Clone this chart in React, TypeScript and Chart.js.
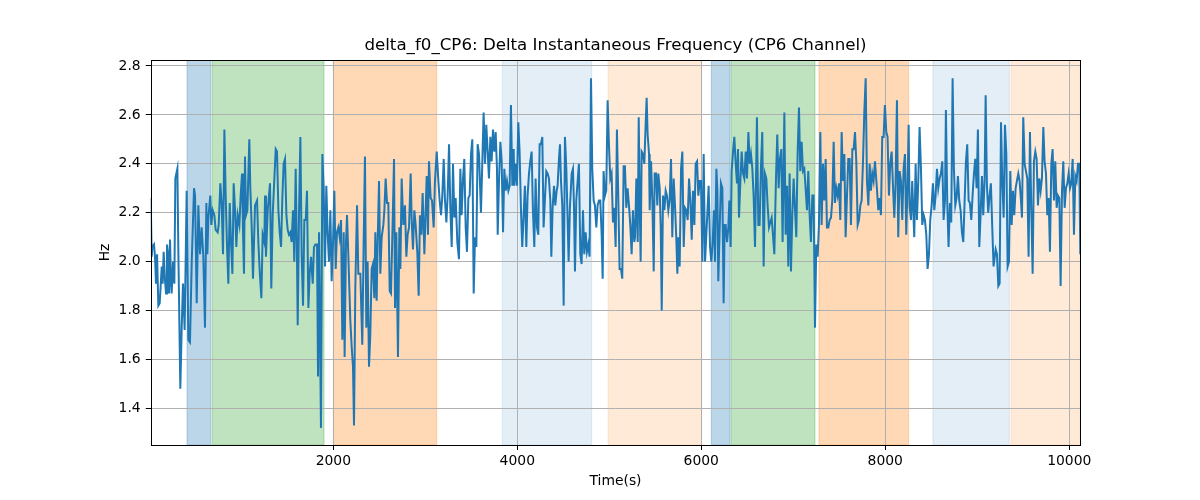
import React, { useEffect, useRef } from "react"
import { Chart, ChartConfiguration, Plugin, registerables } from "chart.js"

Chart.register(...registerables)

// sample times (s) and delta frequency values (Hz)
const timeS = [
	15, 26, 33, 51, 62, 73, 84, 98, 113, 135,
	145, 156, 171, 182, 192, 207, 214, 225, 236, 243,
	258, 272, 283, 305, 316, 337, 352, 366, 384, 406,
	424, 442, 461, 486, 497, 515, 533, 551, 569, 587,
	605, 620, 631, 642, 663, 674, 689, 707, 721, 743,
	754, 772, 787, 801, 816, 830, 845, 859, 874, 888,
	903, 917, 932, 946, 961, 979, 993, 1008, 1018, 1029,
	1040, 1051, 1066, 1087, 1098, 1113, 1127, 1149, 1171, 1185,
	1200, 1218, 1232, 1250, 1258, 1268, 1287, 1312, 1326, 1341,
	1374, 1388, 1403, 1417, 1432, 1446, 1460, 1475, 1490, 1504,
	1518, 1533, 1547, 1562, 1576, 1591, 1605, 1613, 1627, 1642,
	1656, 1671, 1685, 1700, 1714, 1729, 1743, 1758, 1776, 1790,
	1805, 1823, 1834, 1845, 1866, 1881, 1895, 1910, 1924, 1939,
	1953, 1968, 1982, 1997, 2011, 2026, 2040, 2055, 2069, 2084,
	2098, 2113, 2123, 2138, 2149, 2163, 2185, 2200, 2214, 2225,
	2239, 2258, 2272, 2294, 2315, 2330, 2344, 2359, 2373, 2388,
	2402, 2417, 2431, 2446, 2457, 2471, 2482, 2497, 2511, 2526,
	2544, 2555, 2569, 2584, 2598, 2613, 2627, 2642, 2660,
	2671, 2685, 2703, 2718, 2729, 2743, 2761, 2779, 2794, 2808,
	2823, 2841, 2852, 2866, 2881, 2895, 2913, 2928, 2942, 2957,
	2971, 2990, 3004, 3015, 3029, 3040, 3058, 3073, 3091, 3105,
	3124, 3142, 3156, 3171, 3185, 3200, 3214, 3229, 3243, 3258,
	3272, 3287, 3301, 3316, 3330, 3348, 3366, 3381, 3395, 3410,
	3424, 3439, 3453, 3468, 3482, 3497, 3511, 3526, 3540, 3555,
	3569, 3584, 3605, 3620, 3634, 3649, 3663, 3678, 3692, 3707,
	3721, 3736, 3750, 3765, 3779, 3787, 3801, 3816, 3830, 3845,
	3859, 3874, 3888, 3903, 3917, 3931, 3946, 3961,
	3967, 3982, 3996, 4011, 4025, 4040, 4054, 4069, 4083, 4098,
	4112, 4127, 4141, 4156, 4170, 4185, 4199, 4214, 4228, 4243,
	4257, 4272, 4286, 4301, 4315, 4330, 4344, 4359, 4370, 4384,
	4399, 4413, 4428, 4438, 4453, 4464, 4475, 4489, 4504, 4518,
	4533, 4547, 4558, 4572, 4591, 4605, 4616, 4627, 4641, 4656,
	4670, 4685, 4699, 4714, 4728, 4743, 4757, 4772, 4786, 4801,
	4815, 4830, 4844, 4859, 4873, 4888, 4902, 4917, 4928, 4938,
	4953, 4967, 4982, 4996, 5011, 5025, 5040, 5054, 5069, 5083,
	5098, 5112, 5127, 5141, 5156, 5170, 5185, 5199, 5214, 5228,
	5243, 5257, 5272,
	5280, 5294, 5309, 5320, 5330, 5341, 5352, 5367, 5381, 5396,
	5406, 5417, 5432, 5439, 5454, 5468, 5483, 5493, 5508, 5522,
	5533, 5548, 5559, 5570, 5584, 5599, 5613, 5627, 5642, 5656,
	5671, 5685, 5700, 5714, 5729, 5740, 5751, 5765, 5780, 5794,
	5809, 5823, 5838, 5852, 5867, 5881, 5896, 5910, 5925, 5939,
	5954, 5968, 5983, 5997, 6012, 6026, 6041, 6055, 6070, 6080,
	6095, 6109, 6124, 6138, 6149, 6164, 6175, 6185, 6200, 6214,
	6229, 6243, 6254, 6265, 6280, 6294, 6305, 6319, 6330, 6345,
	6359, 6374, 6388, 6399, 6410, 6425, 6439, 6454, 6468, 6483,
	6497, 6512, 6526, 6540, 6555, 6569, 6584,
	6605, 6620, 6634, 6649, 6663, 6678, 6692, 6707, 6721, 6736,
	6750, 6765, 6779, 6794, 6812, 6826, 6841, 6855, 6870, 6884,
	6903, 6917, 6932, 6946, 6960, 6975, 6989, 7004, 7018, 7033,
	7047, 7062, 7076, 7091, 7105, 7120, 7134, 7149, 7163, 7178,
	7192, 7207, 7221, 7236, 7250, 7265, 7279, 7294, 7308, 7323,
	7337, 7352, 7366, 7381, 7395, 7410, 7424, 7439, 7453, 7468,
	7482, 7497, 7511, 7526, 7540, 7555, 7569, 7584, 7598, 7613,
	7627, 7642, 7656, 7671, 7685, 7700, 7714, 7729, 7743, 7758,
	7772, 7787, 7801, 7816, 7830, 7844, 7859, 7873, 7888,
	7909, 7924, 7938, 7953, 7967, 7982, 7996, 8011, 8025, 8040,
	8054, 8069, 8083, 8098, 8112, 8127, 8141, 8156, 8170, 8185,
	8199, 8214, 8228, 8243, 8254, 8264, 8279, 8293, 8308, 8315,
	8330, 8344, 8359, 8373, 8388, 8402, 8417, 8431, 8446, 8460,
	8475, 8489, 8504, 8518, 8533, 8547, 8562, 8576, 8591, 8605,
	8620, 8634, 8649, 8659, 8674, 8688, 8703, 8717, 8732, 8746,
	8761, 8775, 8790, 8804, 8819, 8833, 8848, 8862, 8877, 8891,
	8906, 8920, 8935, 8949, 8964, 8978, 8993, 9007, 9022, 9036,
	9051, 9065, 9080, 9091, 9105, 9119, 9134, 9148, 9163, 9177,
	9200, 9214, 9229, 9243, 9258, 9272, 9287, 9301, 9316, 9330,
	9345, 9359, 9374, 9388, 9402, 9417, 9431, 9446, 9460, 9475,
	9486, 9500, 9515, 9529, 9544, 9558, 9573, 9587, 9602, 9616,
	9631, 9645, 9660, 9674, 9689, 9703, 9718, 9732, 9747, 9761,
	9776, 9790, 9805, 9819, 9834, 9848, 9863, 9877, 9892, 9906,
	9921, 9935, 9950, 9964, 9979, 9993, 10008, 10022, 10037, 10051,
	10066, 10080, 10095, 10109, 10120,
]

const deltaHz = [
	2.26, 2.02, 2.06, 2.07, 2.02, 1.91, 2.03, 1.82, 1.83, 1.98,
	1.91, 2.04, 1.92, 1.87, 2.07, 2.02, 1.87, 2.09, 1.91, 1.87,
	2.0, 1.91, 2.34, 2.38, 2.03, 1.48, 1.73, 1.91, 1.72, 2.29,
	1.68, 1.67, 2.0, 2.3, 2.27, 1.83, 2.23, 2.03, 2.14, 2.02,
	1.73, 2.24, 2.03, 2.18, 2.27, 2.15, 2.21, 2.19, 2.13, 2.12,
	2.15, 2.32, 2.23, 2.03, 2.54, 2.27, 2.06, 1.91, 2.24, 2.08,
	1.95, 2.32, 2.21, 2.06, 2.19, 2.15, 2.27, 2.36, 2.13, 1.95,
	2.43, 2.19, 2.21, 2.5, 2.3, 2.14, 1.93, 2.23, 2.25, 2.08,
	1.96, 1.85, 2.11, 2.08, 2.27, 2.02, 2.21, 2.32, 1.89, 2.19,
	2.46, 2.45, 2.21, 2.12, 2.06, 2.26, 2.4, 2.42, 2.19, 2.13,
	2.11, 2.12, 2.08, 2.21, 2.0, 2.38, 2.02, 1.74, 2.19, 2.51,
	2.03, 1.82, 2.17, 2.17, 2.29, 1.81, 1.95, 2.02, 1.91, 2.06,
	2.07, 2.07, 1.53, 2.12, 1.32, 2.44, 2.3, 1.98, 2.31, 2.11,
	2.0, 2.21, 1.92, 2.08, 2.29, 1.97, 2.12, 2.14, 2.1, 2.17,
	1.68, 2.12, 1.61, 2.08, 2.19, 2.03, 1.76, 1.65, 1.57, 1.33,
	1.89, 2.23, 1.95, 1.95, 1.66, 2.08, 2.43, 1.73, 2.0, 1.57,
	1.7, 1.97, 1.99, 1.85, 2.12, 1.84, 2.08, 2.33, 1.95, 2.1,
	2.15, 2.21, 2.34, 2.24, 2.24, 1.88, 1.87, 2.11, 2.42,
	1.81, 2.12, 1.61, 2.14, 1.97, 2.34, 2.15, 2.23, 2.02, 2.11,
	2.14, 2.36, 2.17, 2.05, 2.21, 2.15, 2.04, 1.86, 2.19, 2.11,
	2.28, 2.03, 2.21, 2.35, 2.11, 2.41, 2.26, 2.25, 2.14, 2.33,
	2.45, 2.33, 2.25, 2.19, 2.27, 2.42, 2.25, 2.16, 2.27, 2.48,
	2.22, 2.06, 2.4, 2.18, 2.26, 2.08, 2.01, 2.38, 2.19, 2.34,
	2.42, 2.14, 2.04, 2.26, 2.27, 2.44, 2.5, 1.87, 2.1, 2.06,
	2.48, 2.44, 2.2, 2.41, 2.61, 2.4, 2.56, 2.45, 2.34, 2.51,
	2.41, 2.54, 2.45, 2.53, 2.38, 2.11, 2.33, 2.49, 2.41, 2.12,
	2.38, 2.29, 2.33, 2.29, 2.31, 2.64, 2.31, 2.46,
	2.31, 2.4, 2.31, 2.57, 2.45, 2.21, 2.06, 2.19, 2.31, 2.06,
	2.27, 2.36, 2.41, 2.45, 2.21, 2.06, 2.34, 2.14, 2.11, 2.48,
	2.48, 2.51, 2.14, 2.26, 2.37, 2.36, 2.34, 2.25, 2.02, 2.22,
	2.31, 2.23, 2.29, 2.31, 2.42, 2.48, 2.33, 2.23, 1.82, 2.51,
	2.38, 2.17, 2.0, 2.22, 2.36, 2.38, 2.23, 1.96, 2.25, 2.33,
	2.4, 2.03, 1.99, 2.21, 2.03, 2.12, 2.04, 2.07, 2.02, 2.75,
	2.38, 2.25, 2.23, 2.14, 2.23, 2.25, 2.25, 2.11, 1.93, 2.37,
	2.27, 2.29, 2.66, 2.48, 2.34, 2.36, 2.16, 2.22, 2.06, 2.54,
	2.26, 1.97, 1.97, 1.93, 2.39, 2.39, 2.22, 2.3, 2.23, 2.15,
	2.03, 2.21, 2.08,
	2.1, 2.34, 2.08, 2.59, 2.25, 2.0, 2.45, 2.44, 2.4, 2.57,
	2.67, 2.52, 2.44, 2.21, 2.41, 2.25, 1.96, 2.36, 2.36, 2.23,
	2.36, 2.3, 2.14, 1.8, 2.27, 2.21, 2.29, 2.27, 2.21, 2.25,
	2.42, 2.1, 2.34, 2.23, 2.09, 1.95, 2.1, 1.98, 2.38, 2.45,
	2.06, 2.22, 2.21, 2.17, 2.34, 2.25, 2.09, 2.29, 2.15, 2.4,
	2.41, 2.27, 2.33, 2.33, 2.0, 2.44, 2.0, 2.11, 2.23, 2.31,
	2.06, 2.0, 2.08, 2.21, 2.0, 2.38, 2.29, 1.92, 2.14, 2.32,
	2.3, 1.83, 2.15, 2.15, 2.08, 2.14, 2.25, 2.06, 2.37, 2.45,
	2.51, 2.4, 2.32, 2.46, 2.18, 2.33, 2.45, 2.36, 2.34, 2.45,
	2.34, 2.53, 2.4, 2.44, 2.38, 2.27, 2.06,
	2.59, 2.15, 2.15, 2.39, 2.53, 1.98, 2.36, 2.34, 2.23, 2.14,
	2.16, 2.18, 2.11, 2.03, 2.34, 2.52, 2.3, 2.42, 2.46, 2.08,
	2.61, 2.11, 2.31, 1.98, 2.36, 1.96, 2.19, 2.34, 2.22, 2.1,
	2.44, 2.63, 2.37, 2.49, 2.37, 2.38, 2.3, 2.21, 2.37, 2.19,
	2.08, 2.27, 2.27, 1.73, 2.07, 2.02, 2.15, 2.53, 2.15, 2.4,
	2.25, 2.42, 2.14, 2.14, 2.17, 2.18, 2.25, 2.49, 2.24, 2.3,
	2.27, 2.32, 2.17, 2.53, 2.33, 2.44, 2.1, 2.27, 2.42, 2.42,
	2.15, 2.46, 2.46, 2.53, 2.41, 2.15, 2.17, 2.23, 2.25, 2.41,
	2.61, 2.75, 2.33, 2.23, 2.4, 2.29, 2.36, 2.33, 2.41,
	2.3, 2.21, 2.26, 2.19, 2.51, 2.51, 2.64, 2.53, 2.51, 2.27,
	2.4, 2.45, 2.32, 2.18, 2.32, 2.66, 2.1, 2.37, 2.33, 2.17,
	2.38, 2.44, 2.11, 2.33, 2.56, 2.23, 2.17, 2.33, 2.17, 2.1,
	2.4, 2.17, 2.33, 2.55, 2.38, 2.15, 2.19, 2.17, 2.11, 1.97,
	2.03, 2.17, 2.23, 2.32, 2.21, 2.27, 2.38, 2.3, 2.34, 2.36,
	2.41, 2.17, 2.25, 2.62, 2.24, 2.06, 2.24, 2.16, 2.75, 2.38,
	2.23, 2.26, 2.35, 2.25, 2.21, 2.12, 2.08, 2.24, 2.41, 2.48,
	2.25, 2.24, 2.17, 2.27, 2.36, 2.42, 2.3, 2.54, 2.06, 2.19,
	2.35, 2.19, 2.34, 2.68, 2.31, 2.2, 2.27, 2.32, 2.14, 1.98,
	2.05, 2.03, 1.9, 1.91, 2.57, 2.33, 2.18, 2.56, 2.44, 1.98,
	2.0, 2.37, 2.15, 2.29, 2.19, 2.3, 2.33, 2.36, 2.33, 2.25,
	2.18, 2.59, 2.4, 2.37, 2.34, 2.02, 2.53, 2.22, 1.95, 2.41,
	2.45, 2.42, 2.23, 2.34, 2.29, 2.34, 2.55, 2.41, 2.36, 2.19,
	2.26, 2.04, 2.4, 2.46, 2.25, 2.41, 2.22, 2.27, 2.26, 1.9,
	2.29, 2.41, 2.22, 2.3, 2.32, 2.36, 2.3, 2.32, 2.42, 2.11,
	2.35, 2.33, 2.4, 2.4, 2.03,
]

// shaded segments (start, end in seconds) and their fill
const spanStart = [410, 682, 2000, 3837, 4986, 6109, 6323, 7279, 8518, 9366]
const spanEnd = [667, 1899, 3124, 4809, 6004, 6312, 7236, 8254, 9348, 10120]
const spanColor = [
	"rgba(31,119,180,0.3)",
	"rgba(44,160,44,0.3)",
	"rgba(255,127,14,0.3)",
	"rgba(31,119,180,0.12)",
	"rgba(255,127,14,0.16)",
	"rgba(31,119,180,0.3)",
	"rgba(44,160,44,0.3)",
	"rgba(255,127,14,0.3)",
	"rgba(31,119,180,0.12)",
	"rgba(255,127,14,0.16)",
]

const xTicks = [2000, 4000, 6000, 8000, 10000]
const yTicks = [1.4, 1.6, 1.8, 2.0, 2.2, 2.4, 2.6, 2.8]

const FONT = "'DejaVu Sans', sans-serif"

const spansPlugin: Plugin = {
	id: "spans",
	beforeDraw(chart) {
		const { ctx, chartArea: a } = chart
		const xs = chart.scales.x
		ctx.save()
		ctx.fillStyle = "#fff"
		ctx.fillRect(0, 0, chart.width, chart.height)
		ctx.beginPath()
		ctx.rect(a.left, a.top, a.right - a.left, a.bottom - a.top)
		ctx.clip()
		for (let i = 0; i < spanStart.length; i++) {
			const x0 = xs.getPixelForValue(spanStart[i])
			const x1 = xs.getPixelForValue(spanEnd[i])
			ctx.fillStyle = spanColor[i]
			ctx.fillRect(x0, a.top, x1 - x0, a.bottom - a.top)
			ctx.strokeStyle = spanColor[i]
			ctx.lineWidth = 1
			ctx.strokeRect(x0, a.top, x1 - x0, a.bottom - a.top)
		}
		ctx.restore()
	},
	afterDatasetsDraw(chart) {
		// matplotlib-style frame on all four sides
		const { ctx, chartArea: a } = chart
		ctx.save()
		ctx.strokeStyle = "#000"
		ctx.lineWidth = 1
		const l = Math.round(a.left) + 0.5
		const t = Math.round(a.top) + 0.5
		const r = Math.round(a.right) + 0.5
		const b = Math.round(a.bottom) + 0.5
		ctx.strokeRect(l, t, r - l, b - t)
		ctx.restore()
	},
}

export default function App() {
	const chartRef = useRef<HTMLCanvasElement | null>(null)
	const chartInstance = useRef<Chart | null>(null)

	useEffect(() => {
		if (chartInstance.current) {
			chartInstance.current.destroy()
		}
		if (!chartRef.current) return
		const ctx = chartRef.current.getContext("2d")
		if (!ctx) return

		const n = Math.min(timeS.length, deltaHz.length)
		const points = timeS.slice(0, n).map((t, i) => ({ x: t, y: deltaHz[i] }))

		const config: ChartConfiguration = {
			type: "line",
			data: {
				datasets: [
					{
						label: "delta_f0_CP6",
						data: points,
						borderColor: "#1f77b4",
						backgroundColor: "#1f77b4",
						borderWidth: 2,
						pointRadius: 0,
						tension: 0,
						fill: false,
					},
				],
			},
			options: {
				animation: false,
				responsive: false,
				devicePixelRatio: 1,
				events: [],
				layout: { padding: { left: 0, right: 119.7, top: 0, bottom: 0 } },
				plugins: {
					legend: { display: false },
					tooltip: { enabled: false },
					title: {
						display: true,
						fullSize: false,
						text: "delta_f0_CP6: Delta Instantaneous Frequency (CP6 Channel)",
						color: "#000",
						font: { family: FONT, size: 16.67, weight: "normal", lineHeight: 1.2 },
						padding: { top: 35.5, bottom: 4.5 },
					},
				},
				scales: {
					x: {
						type: "linear",
						min: 15,
						max: 10120,
						afterBuildTicks: (s) => {
							s.ticks = xTicks.map((v) => ({ value: v }))
						},
						afterFit: (s) => {
							s.height = 55
						},
						ticks: {
							color: "#000",
							font: { family: FONT, size: 13.9 },
							padding: 3,
							maxRotation: 0,
							autoSkip: false,
							callback: (v) => String(v),
						},
						grid: { color: "#b0b0b0", tickColor: "#000", tickLength: 5, lineWidth: 1 },
						border: { display: false },
						title: {
							display: true,
							text: "Time(s)",
							color: "#000",
							font: { family: FONT, size: 13.9 },
							padding: { top: 0, bottom: 10.7 },
						},
					},
					y: {
						type: "linear",
						min: 1.25,
						max: 2.8245,
						afterBuildTicks: (s) => {
							s.ticks = yTicks.map((v) => ({ value: v }))
						},
						afterFit: (s) => {
							s.width = 150.7
						},
						ticks: {
							color: "#000",
							font: { family: FONT, size: 13.9 },
							padding: 5,
							autoSkip: false,
							callback: (v) => Number(v).toFixed(1),
						},
						grid: { color: "#b0b0b0", tickColor: "#000", tickLength: 5, lineWidth: 1 },
						border: { display: false },
						title: {
							display: true,
							text: "Hz",
							color: "#000",
							font: { family: FONT, size: 13.9 },
							padding: { top: 96.7, bottom: 0 },
						},
					},
				},
			},
			plugins: [spansPlugin],
		}

		chartInstance.current = new Chart(ctx, config)

		return () => {
			if (chartInstance.current) {
				chartInstance.current.destroy()
				chartInstance.current = null
			}
		}
	}, [])

	return (
		<div style={{ position: "absolute", left: 0, top: 0, width: 1200, height: 500, background: "#fff" }}>
			<canvas ref={chartRef} width={1200} height={500}></canvas>
		</div>
	)
}
